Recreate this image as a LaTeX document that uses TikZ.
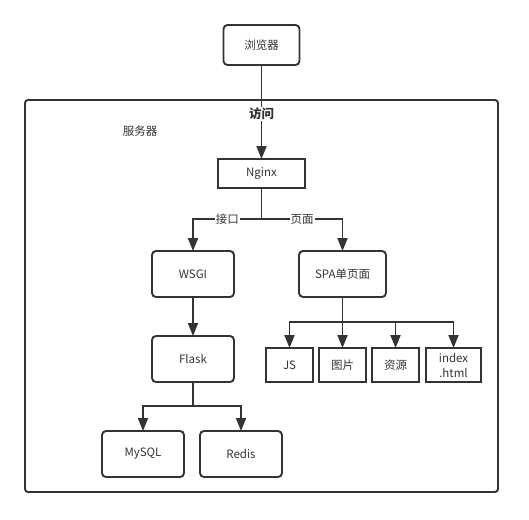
\documentclass[tikz,border=0pt]{standalone}
\usepackage{fontspec}
\setmainfont{Noto Sans CJK SC}
\usetikzlibrary{arrows.meta}
\definecolor{ink}{HTML}{333333}
\begin{document}
\begin{tikzpicture}[x=1pt,y=-1pt,inner sep=0pt,outer sep=0pt,line width=1.9pt,color=ink,
font=\fontsize{11.5}{15}\selectfont,>={Triangle[width=10pt,length=13pt]},
roundblock/.style={draw,rectangle,rounded corners=4pt,minimum width=82pt,minimum height=46pt},
flatblock/.style={draw,rectangle,minimum width=47pt,minimum height=34pt},
linelabel/.style={fill=white,inner sep=1pt}]
\useasboundingbox (0,0) rectangle (529,519);
\draw (261.5,45) node[roundblock,minimum width=76pt,minimum height=40pt] (B) {浏览器};
\draw[rounded corners=3pt] (25,100) rectangle (498,492);
\draw (140,131) node (SL) {服务器};
\draw (261.5,173.5) node[flatblock,minimum width=87pt,minimum height=29pt] (N) {Nginx};
\draw[->] (B) -- (N) node[pos=0.52,linelabel,font=\fontsize{12.5}{15}\selectfont\bfseries] {访问};

\draw (193,274) node[roundblock] (W) {WSGI};
\draw (342.5,274) node[roundblock,minimum width=87pt] (SPA) {SPA单页面};
\coordinate (S1) at (261.5,219);
\draw (N) -- (S1);
\draw[->] (S1) -| node[pos=0.25,linelabel] {接口} (W.north);
\draw[->] (S1) -| node[pos=0.25,linelabel] {页面} (SPA.north);

\draw (193,359) node[roundblock] (F) {Flask};
\draw[->] (W) -- (F);
\draw (143,454) node[roundblock] (M) {MySQL};
\draw (241,454) node[roundblock] (R) {Redis};
\coordinate (S2) at (193,406);
\draw (F) -- (S2);
\draw[->] (S2) -| (M.north);
\draw[->] (S2) -| (R.north);

\draw (289.5,365) node[flatblock] (JS) {JS};
\draw (342.5,365) node[flatblock] (IMG) {图片};
\draw (395.5,365) node[flatblock] (RES) {资源};
\draw (453.5,365) node[flatblock,minimum width=55pt,align=center] (IDX) {index\\.html};
\coordinate (S3) at (342.5,322);
\draw (SPA) -- (S3);
\draw[->] (S3) -| (JS.north);
\draw[->] (S3) -- (IMG);
\draw[->] (S3) -| (RES.north);
\draw[->] (S3) -| (IDX.north);
\end{tikzpicture}
\end{document}
